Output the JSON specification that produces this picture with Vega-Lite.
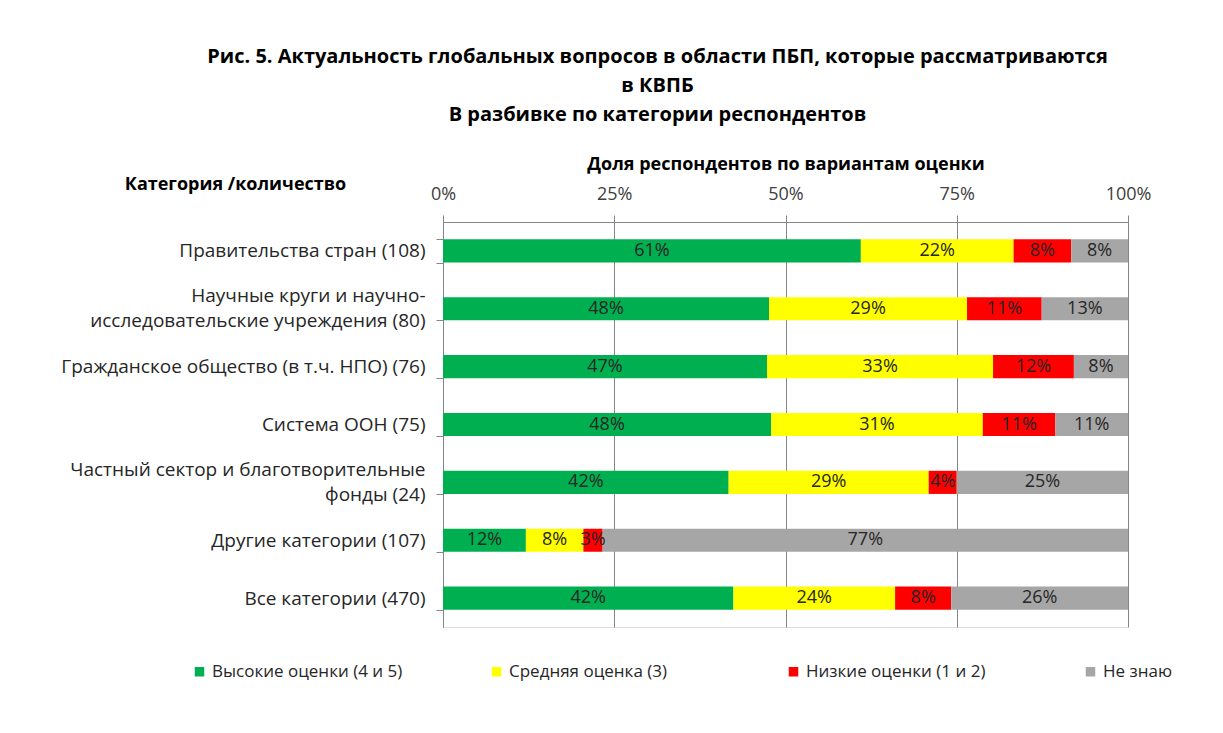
{
  "$schema": "https://vega.github.io/schema/vega-lite/v6.json",
  "width": 685,
  "height": 405,
  "autosize": {"type": "none"},
  "padding": {"left": 443, "top": 222, "right": 95, "bottom": 106},
  "background": "white",
  "title": {
    "text": ["Рис. 5. Актуальность глобальных вопросов в области ПБП, которые рассматриваются", "в КВПБ", "В разбивке по категории респондентов"],
    "anchor": "middle",
    "frame": "group",
    "dx": -128,
    "offset": 30,
    "font": "Open Sans",
    "fontSize": 20,
    "fontWeight": "bold",
    "lineHeight": 29,
    "color": "#000000"
  },
  "data": {
    "values": [
      {"cat": "Правительства стран (108)", "k": 1, "grade": "Высокие оценки (4 и 5)", "v": 0.610},
      {"cat": "Правительства стран (108)", "k": 2, "grade": "Средняя оценка (3)", "v": 0.223},
      {"cat": "Правительства стран (108)", "k": 3, "grade": "Низкие оценки (1 и 2)", "v": 0.084},
      {"cat": "Правительства стран (108)", "k": 4, "grade": "Не знаю", "v": 0.083},
      {"cat": "Научные круги и научно-\nисследовательские учреждения (80)", "k": 1, "grade": "Высокие оценки (4 и 5)", "v": 0.476},
      {"cat": "Научные круги и научно-\nисследовательские учреждения (80)", "k": 2, "grade": "Средняя оценка (3)", "v": 0.289},
      {"cat": "Научные круги и научно-\nисследовательские учреждения (80)", "k": 3, "grade": "Низкие оценки (1 и 2)", "v": 0.109},
      {"cat": "Научные круги и научно-\nисследовательские учреждения (80)", "k": 4, "grade": "Не знаю", "v": 0.126},
      {"cat": "Гражданское общество (в т.ч. НПО) (76)", "k": 1, "grade": "Высокие оценки (4 и 5)", "v": 0.473},
      {"cat": "Гражданское общество (в т.ч. НПО) (76)", "k": 2, "grade": "Средняя оценка (3)", "v": 0.330},
      {"cat": "Гражданское общество (в т.ч. НПО) (76)", "k": 3, "grade": "Низкие оценки (1 и 2)", "v": 0.118},
      {"cat": "Гражданское общество (в т.ч. НПО) (76)", "k": 4, "grade": "Не знаю", "v": 0.079},
      {"cat": "Система ООН (75)", "k": 1, "grade": "Высокие оценки (4 и 5)", "v": 0.479},
      {"cat": "Система ООН (75)", "k": 2, "grade": "Средняя оценка (3)", "v": 0.309},
      {"cat": "Система ООН (75)", "k": 3, "grade": "Низкие оценки (1 и 2)", "v": 0.106},
      {"cat": "Система ООН (75)", "k": 4, "grade": "Не знаю", "v": 0.106},
      {"cat": "Частный сектор и благотворительные\nфонды (24)", "k": 1, "grade": "Высокие оценки (4 и 5)", "v": 0.417},
      {"cat": "Частный сектор и благотворительные\nфонды (24)", "k": 2, "grade": "Средняя оценка (3)", "v": 0.292},
      {"cat": "Частный сектор и благотворительные\nфонды (24)", "k": 3, "grade": "Низкие оценки (1 и 2)", "v": 0.041},
      {"cat": "Частный сектор и благотворительные\nфонды (24)", "k": 4, "grade": "Не знаю", "v": 0.250},
      {"cat": "Другие категории (107)", "k": 1, "grade": "Высокие оценки (4 и 5)", "v": 0.121},
      {"cat": "Другие категории (107)", "k": 2, "grade": "Средняя оценка (3)", "v": 0.084},
      {"cat": "Другие категории (107)", "k": 3, "grade": "Низкие оценки (1 и 2)", "v": 0.028},
      {"cat": "Другие категории (107)", "k": 4, "grade": "Не знаю", "v": 0.767},
      {"cat": "Все категории (470)", "k": 1, "grade": "Высокие оценки (4 и 5)", "v": 0.424},
      {"cat": "Все категории (470)", "k": 2, "grade": "Средняя оценка (3)", "v": 0.236},
      {"cat": "Все категории (470)", "k": 3, "grade": "Низкие оценки (1 и 2)", "v": 0.082},
      {"cat": "Все категории (470)", "k": 4, "grade": "Не знаю", "v": 0.258}
    ]
  },
  "encoding": {
    "y": {
      "field": "cat",
      "type": "nominal",
      "sort": null,
      "scale": {"paddingInner": 0.6, "paddingOuter": 0.3},
      "axis": {
        "title": "Категория /количество",
        "titleAngle": 0,
        "titleAlign": "center",
        "titleBaseline": "middle",
        "titleX": -208,
        "titleY": -38,
        "titleFont": "Open Sans",
        "titleFontSize": 18,
        "titleFontWeight": "bold",
        "titleColor": "#000000",
        "labelExpr": "split(datum.label, '\\n')",
        "labelFont": "Open Sans",
        "labelFontSize": 19,
        "labelColor": "#262626",
        "labelLineHeight": 25,
        "labelLimit": 500,
        "labelPadding": 11,
        "labelBaseline": {"condition": {"test": "length(datum.label) > 40", "value": "line-bottom"}, "value": "middle"},
        "tickBand": "extent",
        "tickSize": 7,
        "tickColor": "#868686",
        "domainColor": "#868686",
        "grid": false
      }
    },
    "x": {
      "field": "v",
      "type": "quantitative",
      "stack": "zero",
      "scale": {"domain": [0, 1], "nice": false},
      "axis": {
        "orient": "top",
        "values": [0, 0.25, 0.5, 0.75, 1],
        "format": ".0%",
        "labelFlush": false,
        "title": "Доля респондентов по вариантам оценки",
        "titleFont": "Open Sans",
        "titleFontSize": 18,
        "titleFontWeight": "bold",
        "titleColor": "#000000",
        "titlePadding": 12,
        "labelFont": "Open Sans",
        "labelFontSize": 18,
        "labelColor": "#404040",
        "labelPadding": 12,
        "tickSize": 7,
        "tickColor": "#868686",
        "domainColor": "#868686",
        "grid": true,
        "gridColor": "#868686"
      }
    },
    "order": {"field": "k", "type": "quantitative"}
  },
  "layer": [
    {
      "mark": {"type": "bar"},
      "encoding": {
        "color": {
          "field": "grade",
          "type": "nominal",
          "scale": {
            "domain": ["Высокие оценки (4 и 5)", "Средняя оценка (3)", "Низкие оценки (1 и 2)", "Не знаю"],
            "range": ["#00B050", "#FFFF00", "#FF0000", "#A6A6A6"]
          },
          "legend": {
            "title": null,
            "orient": "none",
            "legendX": -252,
            "legendY": 441,
            "direction": "horizontal",
            "columns": 4,
            "gridAlign": "all",
            "columnPadding": 85,
            "symbolType": "square",
            "symbolSize": 90,
            "symbolStrokeWidth": 0,
            "labelFont": "Open Sans",
            "labelFontSize": 17,
            "labelColor": "#262626",
            "labelLimit": 400
          }
        }
      }
    },
    {
      "mark": {"type": "text", "font": "Open Sans", "fontSize": 18, "color": "#262626", "baseline": "middle", "align": "center"},
      "encoding": {
        "x": {"field": "v", "type": "quantitative", "stack": "zero", "bandPosition": 0.5},
        "text": {"field": "v", "type": "quantitative", "format": ".0%"}
      }
    }
  ]
}
